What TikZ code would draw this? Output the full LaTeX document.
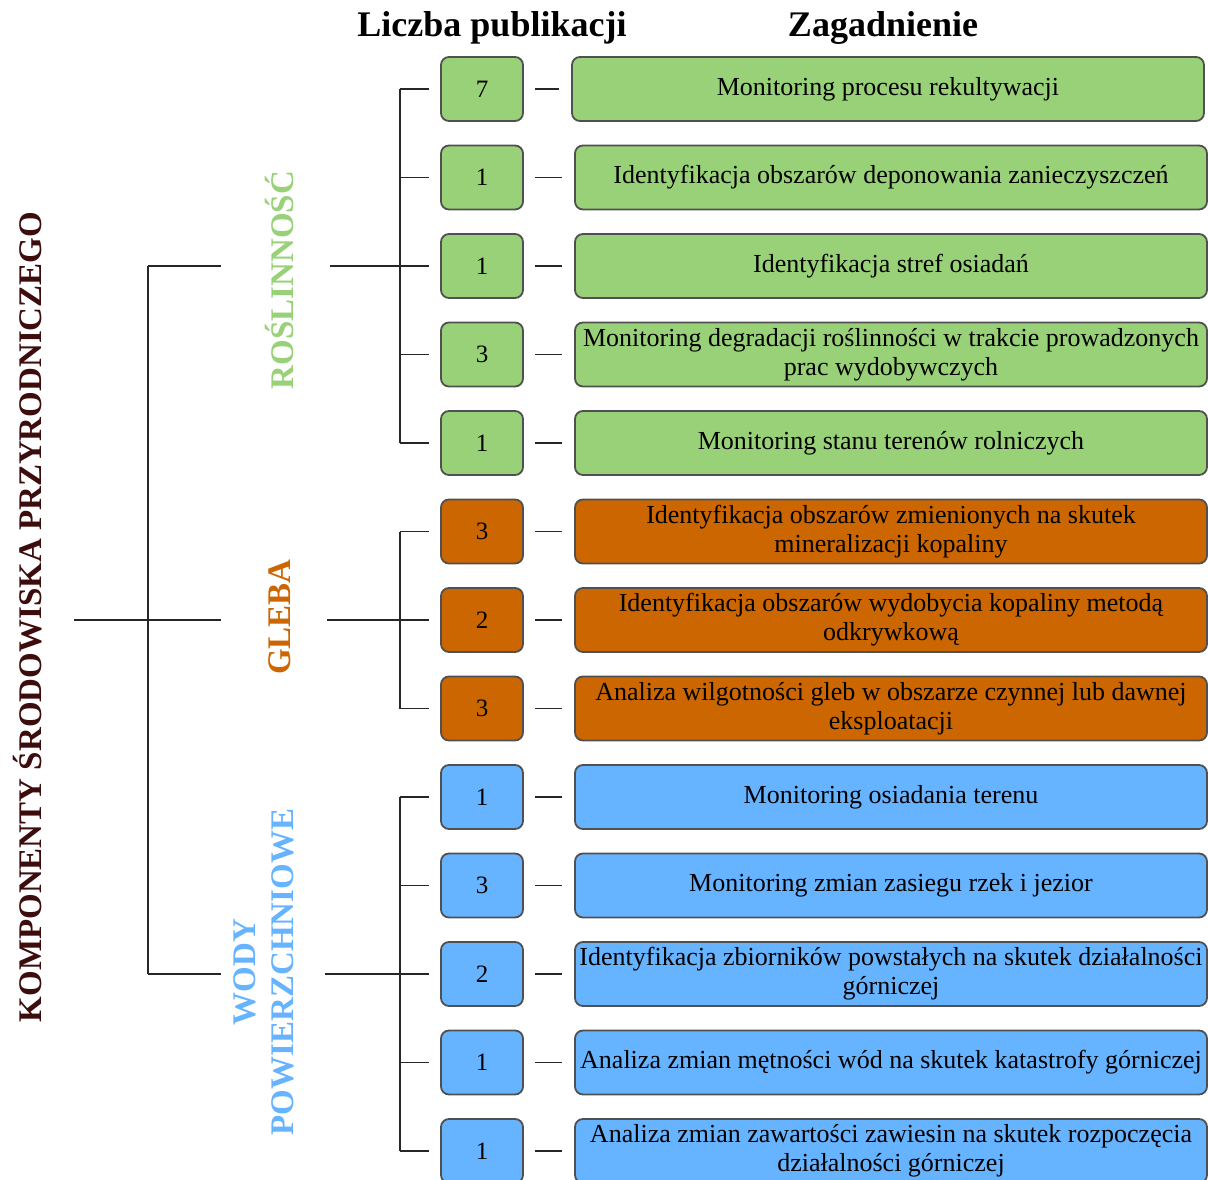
\documentclass[tikz,border=0pt]{standalone}
\usepackage{fontspec}
\setmainfont{Liberation Serif}
\definecolor{cgreen}{HTML}{99D178}
\definecolor{corange}{HTML}{CC6600}
\definecolor{cblue}{HTML}{66B3FF}
\definecolor{cbrown}{HTML}{3D0C0C}
\definecolor{cborder}{HTML}{505050}
\begin{document}
\begin{tikzpicture}[x=1pt,y=-1pt,
  numbox/.style={draw=cborder,line width=1.8pt,rounded corners=8pt,minimum width=82pt,minimum height=64pt,inner sep=0pt,font=\fontsize{25}{29}\selectfont},
  topicbox/.style={draw=cborder,line width=1.8pt,rounded corners=8pt,minimum width=632pt,minimum height=64pt,inner sep=0pt,align=center,font=\fontsize{26}{29}\selectfont},
  tree/.style={line width=1.6pt,draw=black!85},
  grplabel/.style={rotate=90,font=\fontsize{33}{38}\selectfont\bfseries,align=center},
  title/.style={font=\fontsize{36}{42}\selectfont\bfseries},
]
\useasboundingbox (0,0) rectangle (1208,1180);

\node[title] (t1) at (492,28) {Liczba publikacji};
\node[title] (t2) at (883,28) {Zagadnienie};

\foreach \i/\n/\c/\xo/\t in {
  1/7/cgreen/-3/{Monitoring procesu rekultywacji},
  2/1/cgreen/0/{Identyfikacja obszarów deponowania zanieczyszczeń},
  3/1/cgreen/0/{Identyfikacja stref osiadań},
  4/3/cgreen/0/{Monitoring degradacji roślinności w trakcie prowadzonych\\prac wydobywczych},
  5/1/cgreen/0/{Monitoring stanu terenów rolniczych},
  6/3/corange/0/{Identyfikacja obszarów zmienionych na skutek\\mineralizacji kopaliny},
  7/2/corange/0/{Identyfikacja obszarów wydobycia kopaliny metodą\\odkrywkową},
  8/3/corange/0/{Analiza wilgotności gleb w obszarze czynnej lub dawnej\\eksploatacji},
  9/1/cblue/0/{Monitoring osiadania terenu},
  10/3/cblue/0/{Monitoring zmian zasiegu rzek i jezior},
  11/2/cblue/0/{Identyfikacja zbiorników powstałych na skutek działalności\\górniczej},
  12/1/cblue/0/{Analiza zmian mętności wód na skutek katastrofy górniczej},
  13/1/cblue/0/{Analiza zmian zawartości zawiesin na skutek rozpoczęcia\\działalności górniczej}}{
  \pgfmathsetmacro{\yy}{89+88.5*(\i-1)}
  \node[numbox,fill=\c] (num\i) at (482,\yy) {\n};
  \node[topicbox,fill=\c] (top\i) at (891+\xo,\yy) {\t};
  \draw[tree,shorten <=11pt,shorten >=12pt] (num\i.east) -- (top\i.west);
}

% group spines
\coordinate (sp) at (400,0);
\draw[tree] (num1 -| sp) -- (num5 -| sp);
\draw[tree] (num6 -| sp) -- (num8 -| sp);
\draw[tree] (num9 -| sp) -- (num13 -| sp);
\foreach \i in {1,...,13}{
  \draw[tree,shorten >=11pt] (num\i -| sp) -- (num\i.west);
}

% group labels
\node[grplabel,text=cgreen] (lab1) at (280,280) {ROŚLINNOŚĆ};
\node[grplabel,text=corange] (lab2) at (280,617) {GLEBA};
\node[grplabel,text=cblue] (lab3) at (264,972) {WODY\\POWIERZCHNIOWE};
\node[grplabel,text=cbrown] (root) at (28,617) {KOMPONENTY ŚRODOWISKA PRZYRODNICZEGO};

\coordinate (g1) at (330,0);
\coordinate (g2) at (327,0);
\coordinate (g3) at (325,0);
\draw[tree] (num3 -| g1) -- (num3 -| sp);
\draw[tree] (num7 -| g2) -- (num7 -| sp);
\draw[tree] (num11 -| g3) -- (num11 -| sp);

% main bracket
\coordinate (ms) at (148,0);
\coordinate (me) at (221,0);
\coordinate (rs) at (74,620);
\draw[tree] (num3 -| ms) -- (num11 -| ms);
\draw[tree] (num3 -| ms) -- (num3 -| me);
\draw[tree] (num7 -| ms) -- (num7 -| me);
\draw[tree] (num11 -| ms) -- (num11 -| me);
\draw[tree] (rs) -- (rs -| ms);
\end{tikzpicture}
\end{document}
